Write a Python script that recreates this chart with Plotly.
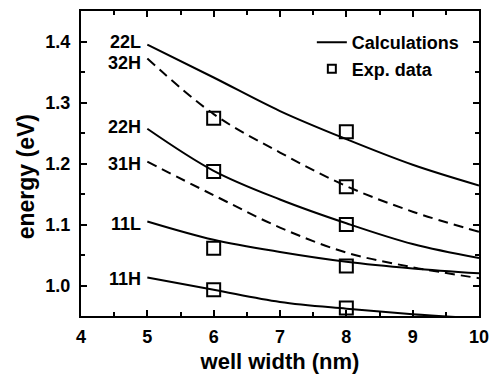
import plotly.graph_objects as go

# ---- data ----
x_calc = [5, 6, 7, 8, 9, 10]
e_22L = [1.395, 1.341, 1.286, 1.240, 1.198, 1.164]
e_32H = [1.372, 1.281, 1.218, 1.163, 1.121, 1.088]
e_22H = [1.257, 1.188, 1.141, 1.102, 1.068, 1.045]
e_31H = [1.203, 1.148, 1.095, 1.054, 1.030, 1.012]
e_11L = [1.105, 1.075, 1.055, 1.039, 1.028, 1.020]
e_11H = [1.013, 0.993, 0.973, 0.962, 0.953, 0.946]

exp_x = [6, 6, 6, 6, 8, 8, 8, 8, 8]
exp_e = [1.274, 1.187, 1.061, 0.993, 1.252, 1.162, 1.100, 1.032, 0.963]

curve_names = ["22L", "32H", "22H", "31H", "11L", "11H"]
curve_vals = [e_22L, e_32H, e_22H, e_31H, e_11L, e_11H]
curve_dashed = [False, True, False, True, False, False]
label_y = [1.400, 1.365, 1.260, 1.200, 1.101, 1.011]

x_ticks = [4, 5, 6, 7, 8, 9, 10]
y_ticks = [1.0, 1.1, 1.2, 1.3, 1.4]
x_range = [4, 10]
y_range = [0.95, 1.45]

FONT = "Liberation Sans, Arial, sans-serif"

fig = go.Figure()
first = True
for name, vals, dashed in zip(curve_names, curve_vals, curve_dashed):
    fig.add_trace(go.Scatter(
        x=x_calc, y=vals, mode="lines", line_shape="spline",
        line=dict(color="black", width=2, dash="10px,6px" if dashed else "solid"),
        name="Calculations", showlegend=first and not dashed,
        hoverinfo="skip"))
    if not dashed:
        first = False

fig.add_trace(go.Scatter(
    x=exp_x, y=exp_e, mode="markers", name="Exp. data", showlegend=False,
    marker=dict(symbol="square-open", size=13, color="black", line=dict(width=2))))
# legend entry only (smaller symbol as in the original legend)
fig.add_trace(go.Scatter(
    x=[None], y=[None], mode="markers", name="Exp. data",
    marker=dict(symbol="square-open", size=8, color="black", line=dict(width=2))))
# invisible trace on mirror axes so top/right ticks are drawn
fig.add_trace(go.Scatter(x=[None], y=[None], xaxis="x2", yaxis="y2",
                         showlegend=False, hoverinfo="skip"))

for name, ly in zip(curve_names, label_y):
    fig.add_annotation(x=5, y=ly, xref="x", yref="y", text=name, showarrow=False,
                       xanchor="right", xshift=-4, yanchor="middle",
                       font=dict(family=FONT, size=18, color="black", weight="bold"))

fig.add_annotation(x=-0.138, y=0.455, xref="paper", yref="paper", text="energy (eV)",
                   showarrow=False, textangle=-90, xanchor="center", yanchor="middle",
                   font=dict(family=FONT, size=23, color="black", weight="bold"))

axis_common = dict(showline=True, linecolor="black", linewidth=2, automargin=False,
                   ticks="inside", ticklen=6, tickwidth=2, tickcolor="black",
                   showgrid=False, zeroline=False,
                   tickfont=dict(family=FONT, size=18, color="black", weight="bold"))
xminor = dict(dtick=0.5, tick0=4, ticks="inside", ticklen=4, tickwidth=1.5, tickcolor="black")
yminor = dict(dtick=0.05, tick0=0.95, ticks="inside", ticklen=4, tickwidth=1.5, tickcolor="black")

fig.update_layout(
    xaxis=dict(range=x_range, tickvals=x_ticks, minor=xminor, ticklabelstandoff=3,
               title=dict(text="well width (nm)", standoff=8,
                          font=dict(family=FONT, size=22, color="black", weight="bold")),
               **axis_common),
    yaxis=dict(range=y_range, tickvals=y_ticks, tickformat=".1f", minor=yminor,
               ticklabelstandoff=5, **axis_common),
    xaxis2=dict(range=x_range, tickvals=x_ticks, minor=xminor, overlaying="x", side="top",
                showticklabels=False, **axis_common),
    yaxis2=dict(range=y_range, tickvals=y_ticks, minor=yminor, overlaying="y", side="right",
                showticklabels=False, **axis_common),
)

fig.update_layout(
    width=492, height=374,
    margin=dict(l=81, r=13, t=11, b=58),
    paper_bgcolor="white", plot_bgcolor="white",
    legend=dict(x=0.58, y=0.957, xanchor="left", yanchor="top",
                bgcolor="rgba(0,0,0,0)", borderwidth=0, tracegroupgap=0,
                font=dict(family=FONT, size=18, color="black", weight="bold")),
    showlegend=True,
)

fig.write_html("out.html")
